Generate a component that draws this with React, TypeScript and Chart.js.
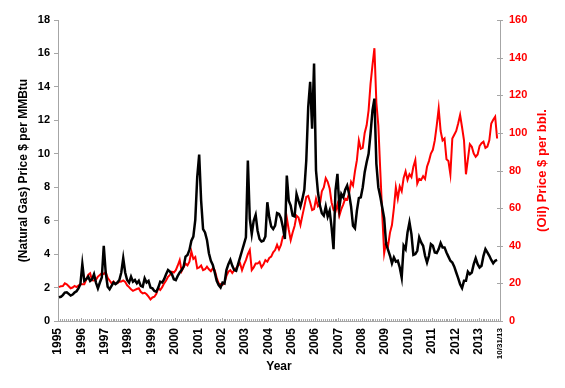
import React, { useEffect, useRef } from "react";
import { Chart, registerables } from "chart.js";

Chart.register(...registerables);

// Monthly series, Jan 1995 .. Oct 2013
const START_YEAR = 1995;
const END_VALUE = 2013 + 10 / 12 + 30 / 365; // 10/31/13
const END_LABEL = "10/31/13";

const gasPrices = [
  1.42, 1.45, 1.55, 1.70, 1.72, 1.62, 1.52, 1.58, 1.70, 1.78, 1.95, 2.20, // 1995
  3.40, 2.40, 2.50, 2.65, 2.40, 2.50, 2.80, 2.30, 1.95, 2.30, 2.60, 4.50, // 1996
  2.90, 2.05, 1.90, 2.10, 2.30, 2.20, 2.30, 2.45, 2.90, 3.75, 2.90, 2.45, // 1997
  2.30, 2.65, 2.35, 2.45, 2.25, 2.40, 2.10, 2.05, 2.55, 2.30, 2.40, 2.00, // 1998
  1.95, 1.80, 1.75, 2.00, 2.35, 2.30, 2.50, 2.80, 3.05, 2.95, 2.80, 2.50, // 1999
  2.45, 2.70, 2.90, 3.05, 3.25, 3.85, 3.95, 4.25, 4.80, 5.05, 6.05, 8.60, // 2000
  9.95, 7.20, 5.50, 5.30, 4.85, 4.05, 3.60, 3.35, 2.90, 2.40, 2.15, 2.00, // 2001
  2.30, 2.25, 3.05, 3.40, 3.65, 3.30, 3.05, 3.00, 3.40, 3.80, 4.20, 4.60, // 2002
  5.00, 9.60, 6.10, 5.20, 6.00, 6.35, 5.40, 4.90, 4.75, 4.80, 5.05, 7.10, // 2003
  6.20, 5.65, 5.50, 5.70, 6.45, 6.40, 6.15, 5.60, 4.90, 8.70, 7.20, 6.90, // 2004
  6.30, 6.25, 7.60, 7.20, 6.85, 7.30, 7.85, 9.60, 12.80, 14.30, 11.50, 15.40, // 2005
  9.00, 7.70, 6.90, 6.45, 6.30, 6.85, 6.25, 6.60, 5.60, 4.30, 7.80, 8.80, // 2006
  6.80, 7.60, 7.40, 7.85, 8.10, 7.60, 6.85, 5.70, 5.55, 6.60, 7.35, 7.40, // 2007
  8.00, 8.90, 9.50, 10.00, 11.20, 12.60, 13.30, 9.40, 8.00, 7.45, 6.80, 6.15, // 2008
  4.60, 4.25, 3.90, 3.45, 3.80, 3.55, 3.60, 3.20, 2.60, 4.50, 4.30, 5.30, // 2009
  5.90, 5.20, 3.95, 4.00, 4.20, 5.00, 4.70, 4.50, 3.90, 3.50, 3.90, 4.60, // 2010
  4.50, 4.10, 4.07, 4.30, 4.66, 4.40, 4.40, 4.10, 3.85, 3.60, 3.50, 3.25, // 2011
  2.90, 2.57, 2.20, 1.97, 2.40, 2.40, 2.95, 2.80, 2.90, 3.40, 3.75, 3.40, // 2012
  3.20, 3.30, 3.90, 4.30, 4.10, 3.90, 3.65, 3.45, 3.60, 3.65, // 2013
];

const oilPrices = [
  18.0, 18.5, 18.6, 20.0, 19.5, 18.5, 17.4, 17.8, 18.6, 18.0, 18.8, 19.5, // 1995
  19.5, 19.5, 22.0, 24.5, 25.4, 21.6, 21.5, 22.0, 23.6, 24.5, 25.4, 25.0, // 1996
  26.0, 23.0, 21.5, 20.0, 21.0, 19.8, 20.2, 20.9, 21.0, 21.6, 20.8, 19.0, // 1997
  18.0, 16.8, 16.0, 16.5, 17.0, 17.4, 15.5, 14.7, 15.0, 14.2, 12.9, 11.5, // 1998
  12.5, 12.9, 14.5, 17.5, 16.5, 18.0, 20.0, 21.5, 23.5, 24.5, 26.2, 25.8, // 1999
  27.0, 29.5, 32.4, 26.5, 28.5, 30.5, 29.6, 31.5, 36.9, 33.0, 34.0, 28.0, // 2000
  28.5, 29.5, 27.0, 27.5, 28.9, 27.5, 26.5, 28.0, 27.0, 23.0, 20.0, 19.5, // 2001
  19.2, 20.5, 24.0, 26.2, 27.0, 25.5, 27.0, 28.0, 29.5, 30.7, 27.0, 30.0, // 2002
  32.4, 35.5, 37.7, 27.1, 28.5, 30.5, 30.5, 31.5, 28.5, 30.0, 32.4, 31.5, // 2003
  33.5, 34.2, 36.5, 37.7, 40.5, 38.0, 40.4, 45.0, 45.5, 54.8, 48.5, 43.0, // 2004
  47.0, 50.5, 56.0, 55.0, 51.0, 56.0, 60.8, 66.0, 66.5, 63.0, 59.0, 59.5, // 2005
  65.0, 61.0, 62.0, 69.0, 71.0, 75.9, 74.0, 70.5, 63.0, 59.0, 58.1, 62.0, // 2006
  56.0, 59.5, 62.0, 65.0, 64.5, 67.9, 74.0, 72.0, 79.5, 85.5, 96.0, 91.5, // 2007
  92.0, 100.0, 104.0, 112.0, 126.0, 136.0, 145.0, 116.0, 104.0, 80.0, 57.0, 36.0, // 2008
  42.0, 40.0, 47.0, 51.0, 60.0, 71.0, 65.0, 71.5, 69.0, 76.0, 79.5, 75.0, // 2009
  78.0, 76.5, 82.0, 85.6, 73.0, 75.5, 75.0, 77.0, 75.5, 82.0, 85.0, 89.0, // 2010
  91.0, 96.0, 104.0, 113.0, 101.0, 96.0, 97.0, 86.0, 85.0, 78.0, 97.0, 99.0, // 2011
  101.0, 105.0, 109.5, 103.0, 96.0, 78.0, 86.0, 94.0, 92.7, 89.0, 87.3, 88.5, // 2012
  93.0, 94.5, 95.3, 92.0, 92.7, 96.0, 105.0, 107.0, 108.6, 97.0, // 2013
];

const yearTicks = [
  1995, 1996, 1997, 1998, 1999, 2000, 2001, 2002, 2003, 2004,
  2005, 2006, 2007, 2008, 2009, 2010, 2011, 2012, 2013,
];

const AXIS_GREY = "#a6a6a6";
const FONT = "'Liberation Sans', Arial, sans-serif";

const monthX = (i: number) => START_YEAR + (i + 0.5) / 12;

const extrasPlugin = {
  id: "extras",
  afterDraw(chart: any) {
    const { ctx, chartArea, scales } = chart;
    const xs = scales.x;
    ctx.save();
    // minor month ticks on the x axis (pointing up, inside)
    ctx.strokeStyle = AXIS_GREY;
    ctx.lineWidth = 1;
    const nMonths = gasPrices.length + 1;
    for (let m = 0; m <= nMonths; m++) {
      const v = START_YEAR + m / 12;
      if (v > END_VALUE) break;
      const px = Math.round(xs.getPixelForValue(v)) + 0.5;
      const len = m % 12 === 0 ? 3 : 2;
      ctx.beginPath();
      ctx.moveTo(px, chartArea.bottom);
      ctx.lineTo(px, chartArea.bottom - len);
      ctx.stroke();
    }
    // right axis tick marks crossing the axis
    const y2 = scales.y2;
    y2.ticks.forEach((t: any) => {
      const py = Math.round(y2.getPixelForValue(t.value)) + 0.5;
      ctx.beginPath();
      ctx.moveTo(chartArea.right - 3, py);
      ctx.lineTo(chartArea.right + 3, py);
      ctx.stroke();
    });
    // right axis title, reading bottom-to-top
    ctx.translate(542, (chartArea.top + chartArea.bottom) / 2);
    ctx.rotate(-Math.PI / 2);
    ctx.fillStyle = "#ff0000";
    ctx.font = `bold 13px ${FONT}`;
    ctx.textAlign = "center";
    ctx.textBaseline = "middle";
    ctx.fillText("(Oil) Price $ per bbl.", 0, 0);
    ctx.restore();
  },
};

export default function App() {
  const canvasRef = useRef<HTMLCanvasElement | null>(null);

  useEffect(() => {
    document.body.style.margin = "0";
    const canvas = canvasRef.current;
    if (!canvas) return;
    const gasData = gasPrices.map((v, i) => ({ x: monthX(i), y: v }));
    const oilData = oilPrices.map((v, i) => ({ x: monthX(i), y: v }));

    const chart = new Chart(canvas, {
      type: "line",
      data: {
        datasets: [
          {
            label: "Natural Gas",
            data: gasData,
            borderColor: "#000000",
            backgroundColor: "#000000",
            borderWidth: 2.5,
            pointRadius: 0,
            tension: 0,
            yAxisID: "y",
          },
          {
            label: "Oil",
            data: oilData,
            borderColor: "#ff0000",
            backgroundColor: "#ff0000",
            borderWidth: 2,
            pointRadius: 0,
            tension: 0,
            yAxisID: "y2",
          },
        ],
      },
      options: {
        animation: false,
        responsive: false,
        devicePixelRatio: 1,
        layout: { padding: { top: 20, left: 0, right: 0, bottom: 0 } },
        plugins: { legend: { display: false }, tooltip: { enabled: false } },
        scales: {
          x: {
            type: "linear",
            min: START_YEAR,
            max: END_VALUE,
            afterBuildTicks: (scale: any) => {
              scale.ticks = [...yearTicks, END_VALUE].map((v) => ({ value: v }));
            },
            afterFit: (scale: any) => {
              scale.height = 67;
            },
            grid: { display: false, drawTicks: false, tickLength: 0 },
            border: { display: true, color: AXIS_GREY, width: 1 },
            ticks: {
              autoSkip: false,
              minRotation: 90,
              maxRotation: 90,
              padding: 7,
              color: "#000000",
              font: (ctx: any) =>
                ctx.tick && ctx.tick.value > 2013.5
                  ? { family: FONT, size: 8, weight: "bold" }
                  : { family: FONT, size: 12, weight: "bold" },
              callback: (v: any) =>
                Number(v) > 2013.5 ? END_LABEL : String(Math.round(Number(v))),
            },
            title: {
              display: true,
              text: "Year",
              color: "#000000",
              font: { family: FONT, size: 12, weight: "bold" },
              padding: { top: 0, bottom: 14 },
            },
          },
          y: {
            type: "linear",
            position: "left",
            min: 0,
            max: 18,
            afterFit: (scale: any) => {
              scale.width = 58;
            },
            grid: {
              display: true,
              drawOnChartArea: false,
              drawTicks: true,
              tickLength: 4,
              color: AXIS_GREY,
            },
            border: { display: true, color: AXIS_GREY, width: 1 },
            ticks: {
              stepSize: 2,
              padding: 4,
              color: "#000000",
              font: { family: FONT, size: 11, weight: "bold" },
            },
            title: {
              display: true,
              text: "(Natural Gas) Price $ per MMBtu",
              color: "#000000",
              font: { family: FONT, size: 12, weight: "bold" },
              padding: { top: 16, bottom: 0 },
            },
          },
          y2: {
            type: "linear",
            position: "right",
            min: 0,
            max: 160,
            afterFit: (scale: any) => {
              scale.width = 65;
            },
            grid: { display: false, drawOnChartArea: false, drawTicks: false, tickLength: 0 },
            border: { display: true, color: AXIS_GREY, width: 1 },
            ticks: {
              stepSize: 20,
              padding: 9,
              color: "#ff0000",
              font: { family: FONT, size: 11, weight: "bold" },
            },
          },
        },
      },
      plugins: [extrasPlugin],
    } as any);

    return () => chart.destroy();
  }, []);

  return (
    <div style={{ width: 565, height: 388 }}>
      <canvas ref={canvasRef} width={565} height={388} style={{ display: "block" }} />
    </div>
  );
}
